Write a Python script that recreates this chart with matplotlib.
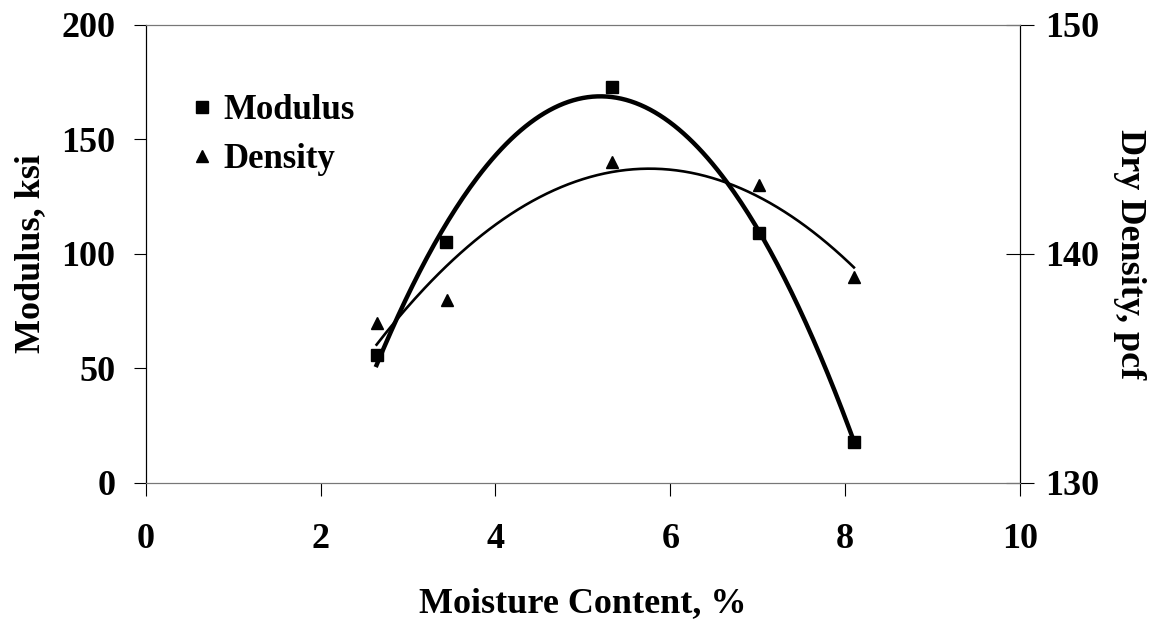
import matplotlib.pyplot as plt
import numpy as np
from matplotlib.lines import Line2D

# Datos
humedad_mod = [2.64, 3.43, 5.33, 7.01, 8.10]
modulo = [56, 105, 173, 109, 18]

humedad_den = [2.64, 3.45, 5.33, 7.02, 8.10]
densidad = [137.0, 138.0, 144.0, 143.0, 139.0]

plt.rcParams['font.family'] = ['Liberation Serif', 'DejaVu Serif']
plt.rcParams['font.weight'] = 'bold'

fig = plt.figure(figsize=(11.57, 6.2), dpi=100)
ax = fig.add_axes([0.126, 0.221, 0.7556, 0.739])
ax2 = ax.twinx()

# Lineas de tendencia polinomica de 2do orden (como en Excel)
c_mod = np.polyfit(humedad_mod, modulo, 2)
xs = np.linspace(min(humedad_mod), max(humedad_mod), 200)
ax.plot(xs, np.polyval(c_mod, xs), color='black', lw=3.2, zorder=3)
ax.plot(humedad_mod, modulo, 's', color='black', ms=9, zorder=4)

c_den = np.polyfit(humedad_den, densidad, 2)
xs2 = np.linspace(min(humedad_den), max(humedad_den), 200)
ax2.plot(xs2, np.polyval(c_den, xs2), color='black', lw=1.9, zorder=3)
ax2.plot(humedad_den, densidad, '^', color='black', ms=9, zorder=4)

ax.set_xlim(0, 10)
ax.set_ylim(0, 200)
ax2.set_ylim(130, 150)
ax.set_xticks([0, 2, 4, 6, 8, 10])
ax.set_yticks([0, 50, 100, 150, 200])
ax2.set_yticks([130, 140, 150])

ax.tick_params(axis='both', direction='out', length=9, width=0.8, labelsize=26)
ax.tick_params(axis='y', pad=13)
ax.tick_params(axis='x', pad=20)
ax2.tick_params(axis='y', direction='inout', length=20, width=0.8, labelsize=26, pad=8)

for a in (ax, ax2):
    for s in a.spines.values():
        s.set_linewidth(0.8)
    a.spines['top'].set_color('#777777')
    a.spines['bottom'].set_color('#777777')

ax.set_xlabel('Moisture Content, %', fontsize=26, fontweight='bold', labelpad=22)
ax.set_ylabel('Modulus, ksi', fontsize=26, fontweight='bold', labelpad=10)
ax2.set_ylabel('Dry Density, pcf', fontsize=26, fontweight='bold', rotation=270, labelpad=34)

handles = [
    Line2D([], [], marker='s', color='black', ls='none', ms=8),
    Line2D([], [], marker='^', color='black', ls='none', ms=9),
]
ax.legend(handles, ['Modulus', 'Density'], loc='upper left', bbox_to_anchor=(0.005, 0.917),
          frameon=False, handletextpad=0.0, labelspacing=0.45,
          handlelength=1.2, prop={'weight': 'bold', 'size': 25})

fig.savefig('out.png', dpi=100)
